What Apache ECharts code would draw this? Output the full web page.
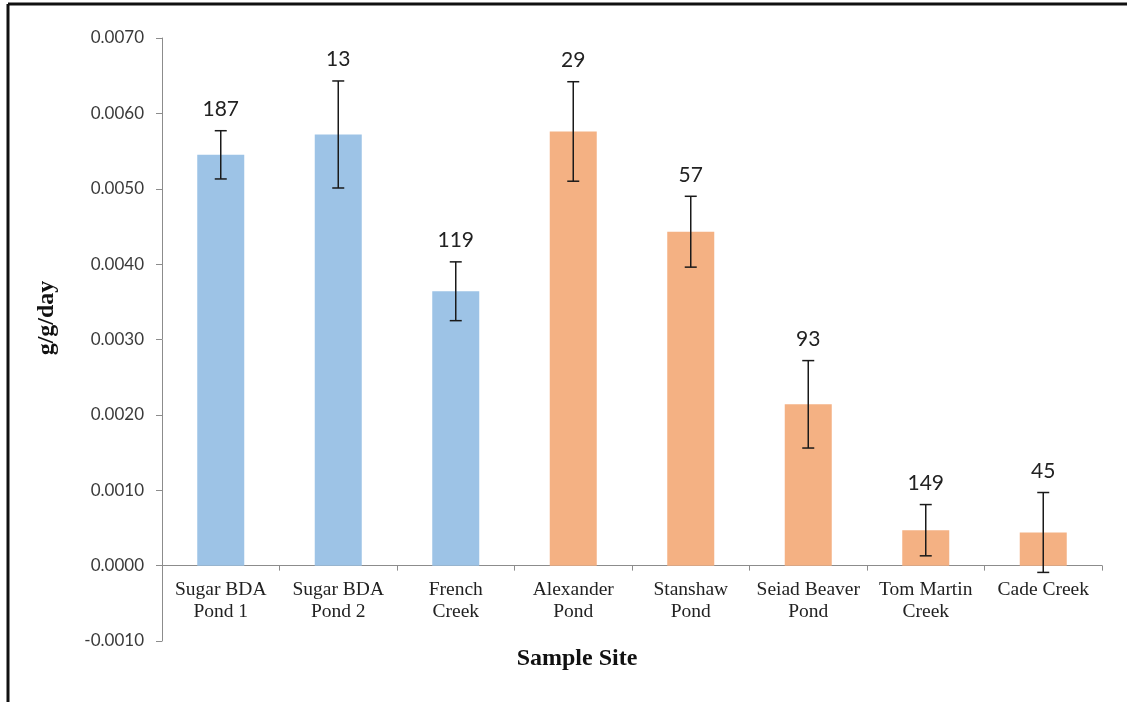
<!DOCTYPE html>
<html>
<head>
<meta charset="utf-8">
<style>
  html, body { margin: 0; padding: 0; background: #ffffff; }
  #chart { width: 1127px; height: 702px; }
</style>
<script src="https://cdn.jsdelivr.net/npm/echarts@6/dist/echarts.min.js"></script>
</head>
<body>
<div id="chart"></div>
<script>
// Growth rate by sample site, with standard-error bars and sample sizes
const sites = ['Sugar BDA\nPond 1', 'Sugar BDA\nPond 2', 'French\nCreek', 'Alexander\nPond',
  'Stanshaw\nPond', 'Seiad Beaver\nPond', 'Tom Martin\nCreek', 'Cade Creek'];
const growth = [0.00545, 0.00572, 0.00364, 0.00576, 0.00443, 0.00214, 0.00047, 0.00044];
const errorUp = [0.00032, 0.00071, 0.00039, 0.00066, 0.00047, 0.00058, 0.00034, 0.00053];
const errorDown = [0.00032, 0.00071, 0.00039, 0.00066, 0.00047, 0.00058, 0.00034, 0.00053];
const sampleSize = [187, 13, 119, 29, 57, 93, 149, 45];
const bdaSiteCount = 3; // first three sites are drawn in blue

const BLUE = '#9DC3E6';
const ORANGE = '#F4B183';
const Y_MIN = -0.001, Y_MAX = 0.007;

const chart = echarts.init(document.getElementById('chart'));

const errorData = growth.map((v, i) => [i, v - errorDown[i], v + errorUp[i], sampleSize[i]]);

// plot area geometry; the category axis sits on the zero line
const plotTop = 38, plotBottom = 61, plotHeight = 702 - plotTop - plotBottom;
const zeroFromBottom = plotBottom + plotHeight * (0 - Y_MIN) / (Y_MAX - Y_MIN);

chart.setOption({
  animation: false,
  backgroundColor: '#ffffff',
  grid: [
    { left: 162, right: 25, top: plotTop, bottom: plotBottom },
    { left: 162, right: 25, top: plotTop, bottom: zeroFromBottom }
  ],
  xAxis: [
    { type: 'category', gridIndex: 0, data: sites, show: false },
    {
      type: 'category', gridIndex: 1, data: sites, position: 'bottom',
      axisLine: { onZero: false, lineStyle: { color: '#8c8c8c', width: 1 } },
      axisTick: { show: true, alignWithLabel: false, length: 5, lineStyle: { color: '#8c8c8c' } },
      axisLabel: {
        interval: 0, margin: 13,
        fontFamily: 'Liberation Serif', fontSize: 19.5, lineHeight: 22, color: '#222'
      },
      splitLine: { show: false }
    }
  ],
  yAxis: [
    {
      type: 'value', gridIndex: 0,
      min: Y_MIN, max: Y_MAX, interval: 0.001,
      axisLine: { show: true, lineStyle: { color: '#8c8c8c', width: 1 } },
      axisTick: { show: true, length: 6, lineStyle: { color: '#8c8c8c' } },
      axisLabel: {
        margin: 18, fontFamily: 'Lato', fontSize: 17, color: '#3a3a3a',
        formatter: v => v.toFixed(4)
      },
      splitLine: { show: false }
    },
    { type: 'value', gridIndex: 1, min: 0, max: 1, show: false }
  ],
  graphic: [
    { type: 'line', shape: { x1: 8, y1: 4, x2: 8, y2: 702 }, style: { stroke: '#111', lineWidth: 3 } },
    { type: 'line', shape: { x1: 8, y1: 4, x2: 1127, y2: 4 }, style: { stroke: '#111', lineWidth: 3 } },
    {
      type: 'text', x: 47, y: 318, rotation: Math.PI / 2,
      style: { text: 'g/g/day', fontFamily: 'Liberation Serif', fontWeight: 'bold', fontSize: 24,
        fill: '#111', align: 'center', verticalAlign: 'middle' }
    },
    {
      type: 'text', x: 577, y: 659,
      style: { text: 'Sample Site', fontFamily: 'Liberation Serif', fontWeight: 'bold', fontSize: 24,
        fill: '#111', align: 'center', verticalAlign: 'middle' }
    }
  ],
  series: [
    {
      type: 'bar',
      xAxisIndex: 0, yAxisIndex: 0,
      barWidth: '40%',
      data: growth.map((v, i) => ({ value: v, itemStyle: { color: i < bdaSiteCount ? BLUE : ORANGE } })),
      z: 2
    },
    {
      type: 'custom',
      xAxisIndex: 0, yAxisIndex: 0,
      z: 3,
      data: errorData,
      encode: { x: 0, y: [1, 2] },
      renderItem: (params, api) => {
        const x = api.value(0);
        const lo = api.coord([x, api.value(1)]);
        const hi = api.coord([x, api.value(2)]);
        const cap = 6;
        const stroke = { stroke: '#1a1a1a', lineWidth: 1.5 };
        return {
          type: 'group',
          children: [
            { type: 'line', shape: { x1: lo[0], y1: lo[1], x2: hi[0], y2: hi[1] }, style: stroke },
            { type: 'line', shape: { x1: hi[0] - cap, y1: hi[1], x2: hi[0] + cap, y2: hi[1] }, style: stroke },
            { type: 'line', shape: { x1: lo[0] - cap, y1: lo[1], x2: lo[0] + cap, y2: lo[1] }, style: stroke },
            {
              type: 'text', x: hi[0], y: hi[1] - 11,
              style: { text: String(api.value(3)), fontFamily: 'Lato', fontSize: 21, fill: '#222',
                align: 'center', verticalAlign: 'bottom' }
            }
          ]
        };
      }
    }
  ]
});
</script>
</body>
</html>
